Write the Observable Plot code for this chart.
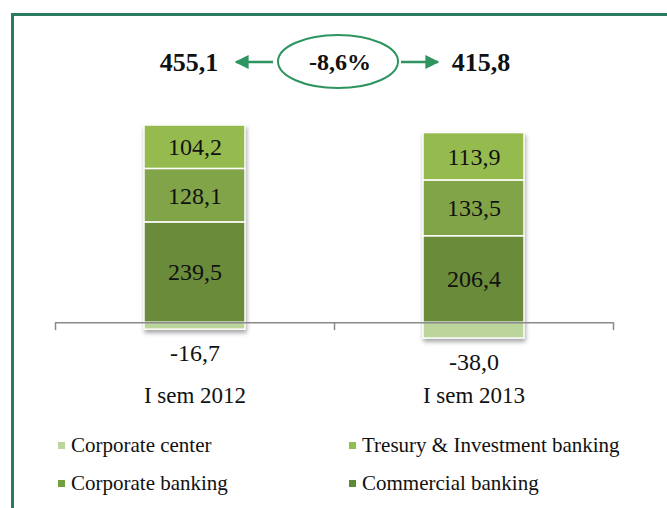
<!DOCTYPE html>
<html>
<head>
<meta charset="utf-8">
<script src="https://cdn.jsdelivr.net/npm/d3@7"></script>
<script src="https://cdn.jsdelivr.net/npm/@observablehq/plot@0.6"></script>
<style>
  html, body { margin: 0; padding: 0; background: #fff; }
  body { width: 667px; height: 508px; position: relative; overflow: hidden; font-family: "Liberation Serif", serif; }
  #frame { position: absolute; left: 11px; top: 13px; width: 700px; height: 600px; border-left: 3px solid #2b7a62; border-top: 3px solid #2b7a62; }
  #chart { position: absolute; left: 0; top: 0; }
  #chart svg { overflow: visible; }
  #legend { position: absolute; left: 0; top: 430px; width: 667px; font-size: 21px; color: #111; font-family: "Liberation Serif", serif; }
  .item { position: absolute; display: flex; align-items: center; white-space: nowrap; height: 30px; }
  .sw { width: 7px; height: 7px; margin-right: 6px; }
</style>
</head>
<body>
<div id="frame"></div>
<div id="chart"></div>
<div id="legend"></div>
<script>
// ---- data ----
const categories = ["I sem 2012", "I sem 2013"];
const segments = ["Corporate center", "Tresury & Investment banking", "Corporate banking", "Commercial banking"];
const corporateCenter = [-16.7, -38.0];
const treasury = [104.2, 113.9];
const corporateBanking = [128.1, 133.5];
const commercialBanking = [239.5, 206.4];
const totals = [455.1, 415.8];
const changeLabel = "-8,6%";
const segmentColors = ["#bcd59b", "#95bb4f", "#80a447", "#6a8b39"];
const legendColors = ["#bcd59b", "#8fbf4e", "#72a03f", "#5e8a35"];
const stackOrder = ["Commercial banking", "Corporate banking", "Tresury & Investment banking", "Corporate center"];

const seriesValues = {
  "Corporate center": corporateCenter,
  "Tresury & Investment banking": treasury,
  "Corporate banking": corporateBanking,
  "Commercial banking": commercialBanking
};
const rows = [];
categories.forEach((c, i) => {
  segments.forEach(s => rows.push({category: c, segment: s, value: seriesValues[s][i]}));
});
const fmt = v => v.toFixed(1).replace(".", ",");
const positives = rows.filter(d => d.value > 0);
const negatives = rows.filter(d => d.value < 0);

const W = 667, H = 420, mL = 55, mR = 54;
const bw = (W - mL - mR) / categories.length;
const inset = 89;
const serif = "'Liberation Serif', serif";

const plot = Plot.plot({
  width: W, height: H,
  marginLeft: mL, marginRight: mR, marginTop: 10, marginBottom: 56,
  x: {domain: categories, padding: 0, axis: null},
  y: {domain: [-100, 747], axis: null},
  color: {domain: segments, range: segmentColors},
  style: {fontFamily: serif, background: "transparent", color: "#111"},
  marks: [
    Plot.barY(rows, {x: "category", y: "value", fill: "segment", order: stackOrder, stroke: "#ffffff", strokeWidth: 1.5, insetLeft: inset, insetRight: inset}),
    Plot.ruleY([0], {stroke: "#8a8a8a", strokeWidth: 1.5}),
    Plot.ruleX(categories, {x: d => d, y1: 0, y2: -19, dx: -bw / 2, stroke: "#8a8a8a", strokeWidth: 1.5}),
    Plot.ruleX(categories.slice(-1), {x: d => d, y1: 0, y2: -19, dx: bw / 2, stroke: "#8a8a8a", strokeWidth: 1.5}),
    Plot.text(positives, Plot.stackY({x: "category", y: "value", z: "segment", order: stackOrder, text: d => fmt(d.value), fontSize: 24, fontFamily: serif, fill: "#111"})),
    Plot.text(negatives, {x: "category", y: "value", text: d => fmt(d.value), fontSize: 24, fontFamily: serif, dy: 24, fill: "#111"}),
    Plot.text(categories, {x: d => d, text: d => d, frameAnchor: "bottom", lineAnchor: "middle", dy: 31, fontSize: 23, fontFamily: serif, fill: "#111"}),
    Plot.text([totals[0]], {x: () => categories[0], text: d => fmt(d), frameAnchor: "top", lineAnchor: "middle", dy: 52, dx: -6, fontSize: 26, fontFamily: serif, fontWeight: "bold", fill: "#111"}),
    Plot.text([totals[1]], {x: () => categories[1], text: d => fmt(d), frameAnchor: "top", lineAnchor: "middle", dy: 52, dx: 7, fontSize: 26, fontFamily: serif, fontWeight: "bold", fill: "#111"})
  ]
});
document.getElementById("chart").appendChild(plot);

// soft shadow under bars
d3.select(plot).select('g[aria-label="bar"]').style("filter", "drop-shadow(1px 3px 2px rgba(0,0,0,0.35))");

// annotation: ellipse with change, and arrows to both totals
const svg = d3.select(plot);
const mid = mL + bw;          // boundary between the two categories
const cy = 62;
const green = "#2e9460";
const defs = svg.append("defs");
defs.append("marker").attr("id", "ah").attr("viewBox", "0 0 10 10").attr("refX", 9).attr("refY", 5)
  .attr("markerWidth", 5.6).attr("markerHeight", 5.6).attr("orient", "auto-start-reverse")
  .append("path").attr("d", "M0,0L10,5L0,10z").attr("fill", green);
const ann = svg.append("g");
ann.append("ellipse").attr("cx", mid + 4).attr("cy", cy - 0.5).attr("rx", 60).attr("ry", 26.5)
  .attr("fill", "none").attr("stroke", green).attr("stroke-width", 2);
ann.append("text").attr("x", mid + 6).attr("y", cy).attr("dy", "0.35em").attr("text-anchor", "middle")
  .attr("font-family", serif).attr("font-size", 24).attr("font-weight", "bold").attr("fill", "#111").text(changeLabel);
ann.append("line").attr("x1", mid - 61).attr("x2", mid - 98).attr("y1", cy).attr("y2", cy)
  .attr("stroke", green).attr("stroke-width", 2.5).attr("marker-end", "url(#ah)");
ann.append("line").attr("x1", mid + 67).attr("x2", mid + 104).attr("y1", cy).attr("y2", cy)
  .attr("stroke", green).attr("stroke-width", 2.5).attr("marker-end", "url(#ah)");

// legend
const legend = document.getElementById("legend");
const legendPos = [
  {seg: 0, left: 58, top: 0},
  {seg: 1, left: 349, top: 0},
  {seg: 2, left: 58, top: 38},
  {seg: 3, left: 349, top: 38}
];
legendPos.forEach(p => {
  const it = document.createElement("div");
  it.className = "item";
  it.style.left = p.left + "px";
  it.style.top = p.top + "px";
  const sw = document.createElement("span");
  sw.className = "sw";
  sw.style.background = legendColors[p.seg];
  const tx = document.createElement("span");
  tx.textContent = segments[p.seg];
  it.appendChild(sw); it.appendChild(tx);
  legend.appendChild(it);
});
</script>
</body>
</html>
